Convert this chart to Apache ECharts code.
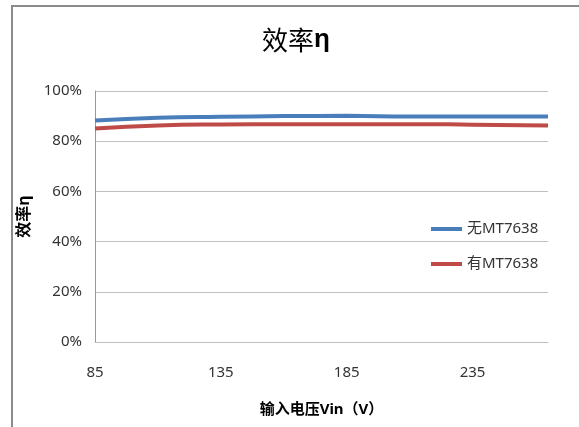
<!DOCTYPE html>
<html>
<head>
<meta charset="utf-8">
<script src="https://cdn.jsdelivr.net/npm/echarts@6/dist/echarts.min.js"></script>
<style>
html,body{margin:0;padding:0;background:#fff;}
#main{width:579px;height:427px;}
</style>
</head>
<body>
<div id="main"></div>
<script>
var voltages = [85, 110, 135, 160, 185, 210, 235, 265];
var withoutMT = [88.2, 89.3, 89.7, 90.0, 90.1, 89.8, 89.8, 89.8];
var withMT = [85.1, 86.3, 86.7, 86.8, 86.8, 86.8, 86.6, 86.3];
var seriesNames = ['无MT7638', '有MT7638'];
var titleText = '效率';
var yName = '效率η';
var xName = '输入电压Vin（V）';

function pairs(xs, ys) { return xs.map(function (x, i) { return [x, ys[i]]; }); }

var FONT = '"Noto Sans", "Noto Sans CJK SC", sans-serif';
var chart = echarts.init(document.getElementById('main'));
chart.setOption({
  animation: false,
  textStyle: { fontFamily: FONT },
  graphic: [{
    type: 'rect', shape: { x: 12, y: 6, width: 620, height: 480 },
    style: { fill: 'none', stroke: '#8c8c8c', lineWidth: 2 }, silent: true, z: 0
  }],
  title: {
    text: '{a|' + titleText + '}{b|η}',
    left: 262, top: 27, padding: 0,
    textStyle: {
      fontWeight: 'normal',
      rich: {
        a: { fontSize: 26, fontWeight: 'normal', fontFamily: '"Noto Sans CJK SC", sans-serif', color: '#000' },
        b: { fontSize: 26, fontWeight: 'bold', fontFamily: '"Liberation Sans", sans-serif', color: '#000' }
      }
    }
  },
  grid: { left: 95, right: 31, top: 91, bottom: 85 },
  legend: {
    orient: 'vertical', left: 426, top: 215,
    icon: 'rect', itemWidth: 31, itemHeight: 4, itemGap: 17,
    textStyle: { fontSize: 15, color: '#333', lineHeight: 18, fontFamily: FONT },
    data: seriesNames
  },
  xAxis: {
    type: 'value', min: 85, max: 265, interval: 50,
    name: xName, nameLocation: 'middle', nameGap: 60,
    nameTextStyle: { fontSize: 15, fontWeight: 'bold', color: '#000', fontFamily: FONT },
    axisLine: { show: true, lineStyle: { color: '#bfbfbf', width: 1 } },
    axisTick: { show: false },
    splitLine: { show: false },
    axisLabel: { showMaxLabel: false, margin: 23, fontSize: 15, color: '#333', fontFamily: FONT }
  },
  yAxis: {
    type: 'value', min: 0, max: 100, interval: 20,
    name: yName, nameLocation: 'middle', nameGap: 62, nameRotate: 90,
    nameTextStyle: { fontSize: 16, fontWeight: 'bold', color: '#000', fontFamily: FONT },
    axisLine: { show: true, lineStyle: { color: '#999', width: 1 } },
    axisTick: { show: false },
    splitLine: { show: true, lineStyle: { color: '#c0c0c0', width: 1 } },
    axisLabel: { formatter: '{value}%', margin: 13, fontSize: 15, color: '#333', fontFamily: FONT }
  },
  series: [
    { name: seriesNames[0], type: 'line', smooth: true, symbol: 'none',
      lineStyle: { color: '#4a7ebb', width: 4 }, itemStyle: { color: '#4a7ebb' },
      data: pairs(voltages, withoutMT) },
    { name: seriesNames[1], type: 'line', smooth: true, symbol: 'none',
      lineStyle: { color: '#be4b48', width: 4 }, itemStyle: { color: '#be4b48' },
      data: pairs(voltages, withMT) }
  ]
});
</script>
</body>
</html>
